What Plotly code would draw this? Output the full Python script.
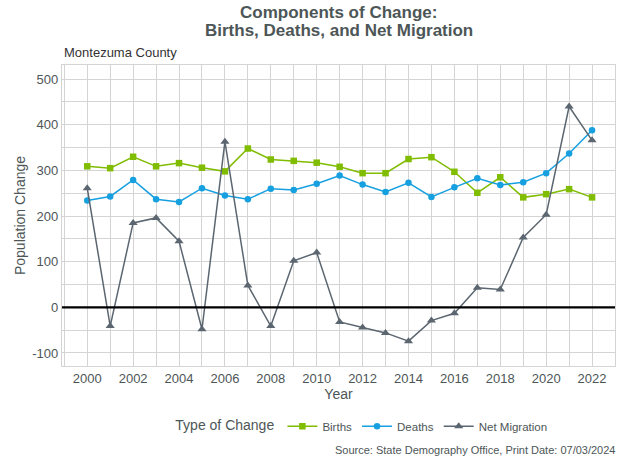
import plotly.graph_objects as go

years = list(range(2000, 2023))
births = [309, 305, 330, 309, 316, 306, 298, 348, 324, 321, 317, 308, 294, 294, 325, 329, 297, 251, 285, 241, 248, 259, 241]
deaths = [234, 243, 279, 237, 231, 261, 245, 237, 260, 257, 271, 289, 269, 253, 273, 242, 263, 283, 268, 274, 294, 337, 388]
net_migration = [261, -41, 185, 196, 145, -48, 363, 48, -41, 102, 120, -32, -44, -56, -74, -29, -13, 43, 39, 153, 203, 440, 366]

x_ticks = list(range(2000, 2023, 2))
y_ticks = [-100, 0, 100, 200, 300, 400, 500]

GREEN = "#80bc00"
BLUE = "#17a0e0"
GRAY = "#5b6670"
TXT = "#4d5657"

fig = go.Figure()
fig.add_trace(go.Scatter(x=years, y=births, name="Births", mode="lines+markers",
                         line=dict(color=GREEN, width=1.5),
                         marker=dict(symbol="square", size=6.5, color=GREEN)))
fig.add_trace(go.Scatter(x=years, y=deaths, name="Deaths", mode="lines+markers",
                         line=dict(color=BLUE, width=1.5),
                         marker=dict(symbol="circle", size=6.5, color=BLUE)))
fig.add_trace(go.Scatter(x=years, y=net_migration, name="Net Migration", mode="lines+markers",
                         line=dict(color=GRAY, width=1.5),
                         marker=dict(symbol="triangle-up", size=8, color=GRAY)))

fig.add_hline(y=0, line=dict(color="black", width=2.4), layer="above")

fig.update_layout(
    width=622, height=457,
    margin=dict(l=62, r=7, t=65, b=91, autoexpand=False),
    paper_bgcolor="white", plot_bgcolor="white",
    font=dict(family="Liberation Sans, Arial, sans-serif", color=TXT, size=13),
    showlegend=True,
    legend=dict(orientation="h", x=0.544, xanchor="center", y=-0.2, yanchor="middle",
                title=dict(text="Type of Change", font=dict(size=14, color=TXT)),
                font=dict(size=11.5, color=TXT), itemwidth=30, tracegroupgap=0),
    annotations=[
        dict(text="<b>Components of Change:</b>", xref="paper", yref="paper",
             x=0.5, y=1.176, xanchor="center", yanchor="middle", showarrow=False,
             font=dict(size=17, color=TXT)),
        dict(text="<b>Births, Deaths, and Net Migration</b>", xref="paper", yref="paper",
             x=0.5, y=1.113, xanchor="center", yanchor="middle", showarrow=False,
             font=dict(size=17, color=TXT)),
        dict(text="Montezuma County", xref="paper", yref="paper", x=0, y=1.01,
             xanchor="left", yanchor="bottom", showarrow=False,
             font=dict(size=13, color="#333333")),
        dict(text="Source: State Demography Office, Print Date: 07/03/2024",
             xref="paper", yref="paper", x=1.003, y=-0.28, xanchor="right", yanchor="middle",
             showarrow=False, font=dict(size=11, color=TXT)),
    ],
)

grid = "#d4d4d4"
fig.update_xaxes(range=[1998.9, 2023.0], tickvals=x_ticks, ticktext=[str(t) for t in x_ticks],
                 showgrid=True, gridcolor=grid, gridwidth=1.3,
                 minor=dict(dtick=1, tick0=1999, showgrid=True, gridcolor=grid, gridwidth=1.3),
                 showline=True, linecolor=grid, linewidth=1.3, mirror=True,
                 zeroline=False, ticks="", tickfont=dict(size=13, color=TXT),
                 title=dict(text="Year", font=dict(size=14, color=TXT), standoff=2))
fig.update_yaxes(range=[-128.5, 531], tickvals=y_ticks, ticktext=[str(t) for t in y_ticks],
                 showgrid=True, gridcolor=grid, gridwidth=1.3,
                 minor=dict(dtick=50, tick0=-150, showgrid=True, gridcolor=grid, gridwidth=1.3),
                 showline=True, linecolor=grid, linewidth=1.3, mirror=True,
                 zeroline=False, ticks="", tickfont=dict(size=13, color=TXT),
                 title=dict(text="Population Change", font=dict(size=14, color=TXT), standoff=3))

fig.write_html("out.html", config={"displayModeBar": False},
               post_script="document.body.style.margin='0px';")
